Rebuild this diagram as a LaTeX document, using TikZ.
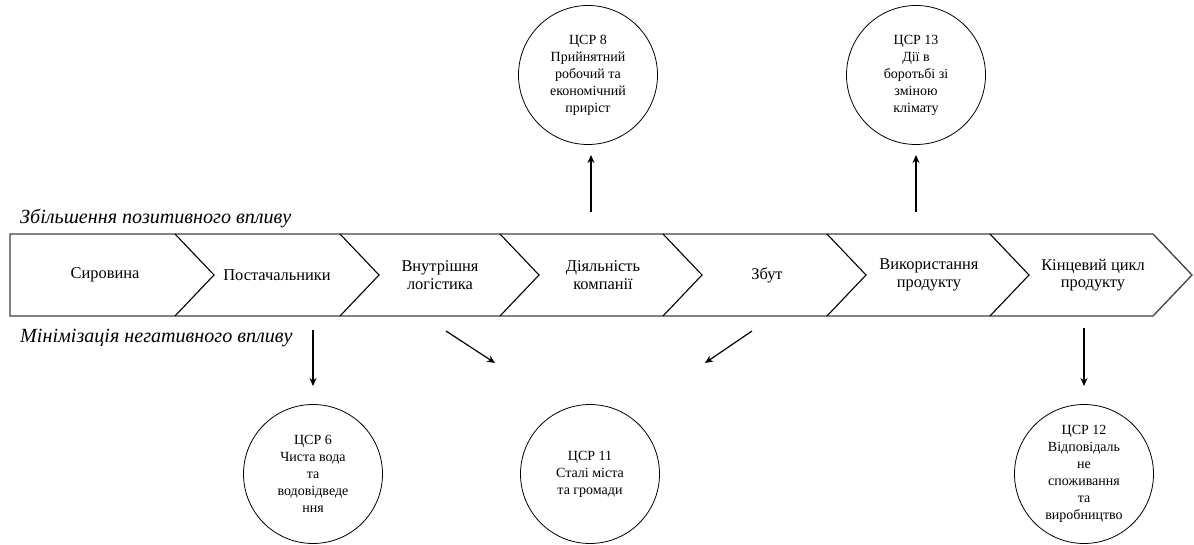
\documentclass[tikz,border=0pt]{standalone}
\usepackage{fontspec}
\setmainfont{Liberation Serif}
\usetikzlibrary{arrows.meta}
\tikzset{
  band/.style={draw=black!75, line width=1.3pt, line join=miter},
  chev/.style={draw=black, line width=1.1pt},
  lbl/.style={align=center, font=\fontsize{16.4}{17.5}\selectfont, inner sep=0pt},
  head/.style={anchor=west, font=\fontsize{20.1}{22}\selectfont\itshape, inner sep=0pt},
  goal/.style={circle, draw=black, line width=0.8pt, minimum size=139pt, inner sep=0pt, align=center, font=\fontsize{14}{17}\selectfont},
  arr/.style={draw=black, line width=1.2pt, -{Stealth[length=8pt,width=7pt]}},
}
\begin{document}
\begin{tikzpicture}[x=1pt,y=-1pt]
\useasboundingbox (0,0) rectangle (1194,545);
% band outline
\draw[band] (10,234) -- (1153,234) -- (1192,275) -- (1153,316) -- (10,316) -- cycle;
% chevrons
\foreach \x in {175,340,500,663,827,990}{
  \draw[chev] (\x,234) -- (\x+39,275) -- (\x,316);
}
% labels
\node[lbl] (s1) at (105,275) {Сировина};
\node[lbl] (s2) at (277,275) {Постачальники};
\node[lbl] (s3) at (440,275) {Внутрішня\\логістика};
\node[lbl] (s4) at (603,275) {Діяльність\\компанії};
\node[lbl] (s5) at (767,275) {Збут};
\node[lbl] (s6) at (929,275) {Використання\\продукту};
\node[lbl] (s7) at (1093,275) {Кінцевий цикл\\продукту};
% headings
\node[head] (hp) at (20,218) {Збільшення позитивного впливу};
\node[head] (hn) at (20,338) {Мінімізація негативного впливу};
% goal circles
\node[goal] (g8) at (588,75) {ЦСР 8\\Прийнятний\\робочий та\\економічний\\приріст};
\node[goal] (g13) at (916,75) {ЦСР 13\\Дії в\\боротьбі зі\\зміною\\клімату};
\node[goal] (g6) at (313,474) {ЦСР 6\\Чиста вода\\та\\водовідведе\\ння};
\node[goal] (g11) at (590,474) {ЦСР 11\\Сталі міста\\та громади};
\node[goal] (g12) at (1084,474) {ЦСР 12\\Відповідаль\\не\\споживання\\та\\виробництво};
% arrow end points
\coordinate (a8) at (591,212);   \coordinate (t8) at (591,155);
\coordinate (a13) at (916,212);  \coordinate (t13) at (916,155);
\coordinate (a6) at (313,330);   \coordinate (t6) at (313,386);
\coordinate (a12) at (1084,328); \coordinate (t12) at (1084,386);
\coordinate (aL) at (446,331);   \coordinate (tL) at (495,363);
\coordinate (aR) at (752,331);   \coordinate (tR) at (705,363);
\draw[arr] (a8) -- (t8);
\draw[arr] (a13) -- (t13);
\draw[arr] (a6) -- (t6);
\draw[arr] (a12) -- (t12);
\draw[arr] (aL) -- (tL);
\draw[arr] (aR) -- (tR);
\end{tikzpicture}
\end{document}
